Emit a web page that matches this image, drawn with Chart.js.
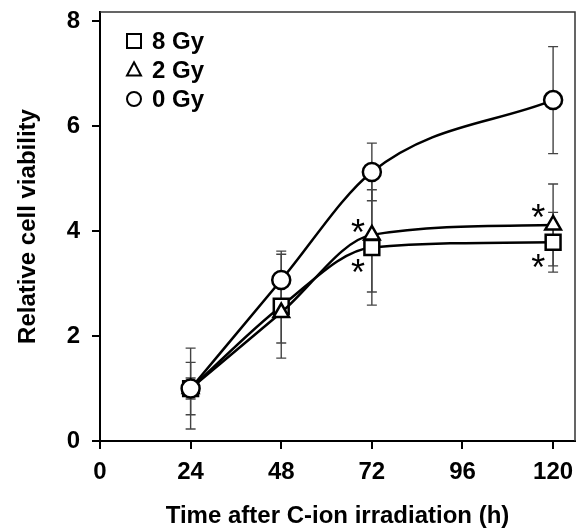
<!DOCTYPE html>
<html>
<head>
<meta charset="utf-8">
<script src="https://cdn.jsdelivr.net/npm/chart.js@4"></script>
<style>
  html, body { margin: 0; padding: 0; background: #fff; }
  #wrap { width: 578px; height: 531px; }
</style>
</head>
<body>
<div id="wrap"><canvas id="chart" width="578" height="531"></canvas></div>
<script>
const hours = [24, 48, 72, 120];
const xTicks = [0, 24, 48, 72, 96, 120];
const yTicks = [0, 2, 4, 6, 8];

const gy8 = [1.00, 2.57, 3.69, 3.79];
const gy8Err = [0.20, 0.99, 1.10, 0.57];
const gy2 = [1.00, 2.45, 3.93, 4.12];
const gy2Err = [0.50, 0.58, 1.09, 0.78];
const gy0 = [1.00, 3.07, 5.13, 6.50];
const gy0Err = [0.77, 0.55, 0.55, 1.02];

// significance marks (hours, viability)
const starX = [68.3, 68.3, 116.1, 116.1];
const starY = [4.08, 3.31, 4.36, 3.41];

const legendNames = ['8 Gy', '2 Gy', '0 Gy'];
const legendShapes = ['rect', 'triangle', 'circle'];

const FONT = '"Liberation Sans", Arial, sans-serif';

function pts(ys) {
  return hours.map((h, i) => ({ x: h, y: ys[i] }));
}

function series(label, ys, errs, style, radius) {
  return {
    label,
    data: pts(ys),
    errors: errs,
    borderColor: '#000',
    borderWidth: 2.5,
    backgroundColor: '#fff',
    pointStyle: style,
    pointRadius: radius,
    pointHoverRadius: radius,
    pointBorderWidth: 2.5,
    pointBackgroundColor: '#fff',
    pointBorderColor: '#000',
    cubicInterpolationMode: 'monotone',
    fill: false
  };
}

function drawShape(ctx, shape, x, y, s) {
  ctx.beginPath();
  if (shape === 'rect') {
    ctx.rect(x - s, y - s, 2 * s, 2 * s);
  } else if (shape === 'triangle') {
    ctx.moveTo(x, y - s * 1.1);
    ctx.lineTo(x + s, y + s * 0.8);
    ctx.lineTo(x - s, y + s * 0.8);
    ctx.closePath();
  } else {
    ctx.arc(x, y, s, 0, Math.PI * 2);
  }
  ctx.stroke();
}

const extras = {
  id: 'extras',
  beforeDatasetsDraw(chart) {
    const { ctx, scales: { x, y } } = chart;
    ctx.save();
    ctx.strokeStyle = '#444';
    ctx.lineWidth = 1.4;
    chart.data.datasets.forEach(ds => {
      ds.data.forEach((p, i) => {
        const e = ds.errors[i];
        const px = x.getPixelForValue(p.x);
        const top = y.getPixelForValue(p.y + e);
        const bot = y.getPixelForValue(p.y - e);
        ctx.beginPath();
        ctx.moveTo(px, top); ctx.lineTo(px, bot);
        ctx.moveTo(px - 5, top); ctx.lineTo(px + 5, top);
        ctx.moveTo(px - 5, bot); ctx.lineTo(px + 5, bot);
        ctx.stroke();
      });
    });
    ctx.restore();
  },
  afterDraw(chart) {
    const { ctx, chartArea: a, scales: { x, y } } = chart;
    ctx.save();
    // frame
    ctx.strokeStyle = '#333';
    ctx.lineWidth = 1.5;
    ctx.beginPath();
    ctx.moveTo(a.left, a.top);
    ctx.lineTo(a.right, a.top);
    ctx.lineTo(a.right, a.bottom);
    ctx.stroke();

    // asterisks
    ctx.fillStyle = '#000';
    ctx.font = 'normal 36px ' + FONT;
    ctx.textAlign = 'center';
    ctx.textBaseline = 'alphabetic';
    starX.forEach((sx, i) => {
      ctx.fillText('*', x.getPixelForValue(sx), y.getPixelForValue(starY[i]) + 0.585 * 36 - 3);
    });

    // legend
    ctx.strokeStyle = '#000';
    ctx.lineWidth = 2;
    ctx.font = 'bold 24px ' + FONT;
    ctx.textAlign = 'left';
    ctx.textBaseline = 'middle';
    legendNames.forEach((name, i) => {
      const ly = a.top + 29 + i * 29;
      drawShape(ctx, legendShapes[i], a.left + 34, ly, 7);
      ctx.fillText(name, a.left + 52, ly + 1);
    });
    ctx.restore();
  }
};

new Chart(document.getElementById('chart'), {
  type: 'line',
  data: {
    datasets: [
      series('0 Gy', gy0, gy0Err, 'circle', 9),
      series('2 Gy', gy2, gy2Err, 'triangle', 9),
      series('8 Gy', gy8, gy8Err, 'rect', 10.5)
    ]
  },
  options: {
    responsive: false,
    animation: false,
    layout: { autoPadding: false, padding: { top: 12, right: 3, left: 0, bottom: 0 } },
    plugins: { legend: { display: false }, tooltip: { enabled: false } },
    scales: {
      x: {
        type: 'linear',
        min: 0,
        max: 125.8,
        afterFit: s => { s.height = 90; s.paddingLeft = 0; s.paddingRight = 0; },
        afterBuildTicks: s => { s.ticks = xTicks.map(v => ({ value: v })); },
        border: { display: true, color: '#000', width: 2 },
        grid: { display: true, drawOnChartArea: false, drawTicks: true, tickLength: 8, color: '#000', lineWidth: 2 },
        ticks: { color: '#000', padding: 9, maxRotation: 0, font: { family: FONT, size: 24, weight: 'bold' } },
        title: {
          display: true,
          text: 'Time after C-ion irradiation (h)',
          color: '#000',
          padding: { top: 0, bottom: 0 },
          font: { family: FONT, size: 24, weight: 'bold' }
        }
      },
      y: {
        type: 'linear',
        min: 0,
        max: 8.18,
        afterFit: s => { s.width = 100; s.paddingTop = 0; s.paddingBottom = 0; },
        afterBuildTicks: s => { s.ticks = yTicks.map(v => ({ value: v })); },
        border: { display: true, color: '#000', width: 2 },
        grid: { display: true, drawOnChartArea: false, drawTicks: true, tickLength: 8, color: '#000', lineWidth: 2 },
        ticks: { color: '#000', padding: 12, font: { family: FONT, size: 24, weight: 'bold' } },
        title: {
          display: true,
          text: 'Relative cell viability',
          color: '#000',
          padding: { top: 14, bottom: 0 },
          font: { family: FONT, size: 24, weight: 'bold' }
        }
      }
    }
  },
  plugins: [extras]
});
</script>
</body>
</html>
